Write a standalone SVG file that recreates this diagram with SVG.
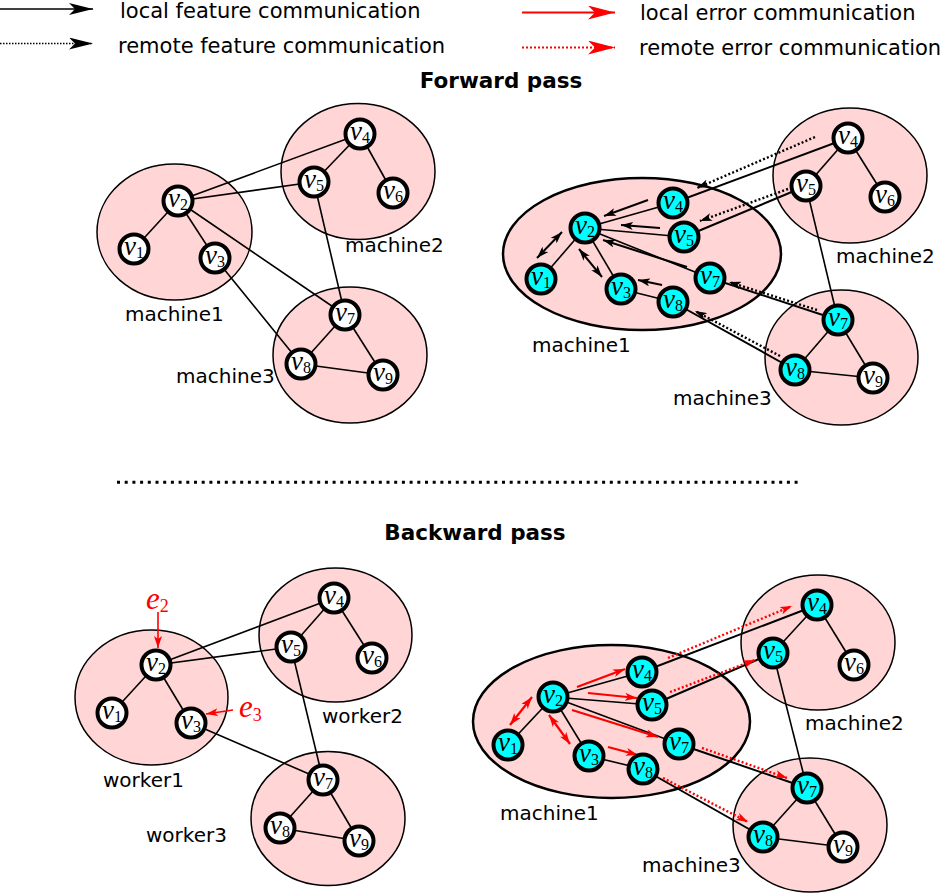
<svg xmlns="http://www.w3.org/2000/svg" width="944" height="895" viewBox="0 0 944 895">
<defs>
<style>
.m{fill:#ffd5d5;stroke:#000;stroke-width:1.5}
.mb{fill:#ffd5d5;stroke:#000;stroke-width:2.5}
.n{fill:#fff;stroke:#000;stroke-width:4}
.c{fill:#00ffff;stroke:#000;stroke-width:4}
.e{stroke:#000;stroke-width:1.6;fill:none}
.ew{stroke:#000;stroke-width:2;fill:none}
.ab{stroke:#000;stroke-width:2;fill:none}
.ad{stroke:#000;stroke-width:2.4;stroke-dasharray:2 2.2;fill:none}
.ar{stroke:#f00;stroke-width:2.2;fill:none}
.ard{stroke:#f00;stroke-width:2.4;stroke-dasharray:2 2.2;fill:none}
.lab{font-family:"Liberation Serif",serif;text-anchor:middle}
.v{font-style:italic;font-size:27px}
.s{font-size:16px}
.ee{font-style:italic;font-size:31px}
.es{font-size:18px}
.t{font-family:"DejaVu Sans",sans-serif;font-size:20px;fill:#000}
.lg{font-family:"DejaVu Sans",sans-serif;font-size:21px;fill:#000}
.h{font-family:"DejaVu Sans",sans-serif;font-size:21.5px;font-weight:bold;text-anchor:middle}
</style>
<marker id="ah" viewBox="0 0 12 8" refX="12" refY="4" markerWidth="12" markerHeight="8" markerUnits="userSpaceOnUse" orient="auto-start-reverse"><path d="M0,0 L12,4 L0,8 L3,4 z" fill="#000"/></marker>
<marker id="ahr" viewBox="0 0 12 8" refX="12" refY="4" markerWidth="12" markerHeight="8" markerUnits="userSpaceOnUse" orient="auto-start-reverse"><path d="M0,0 L12,4 L0,8 L3,4 z" fill="#f00"/></marker>
<marker id="big" viewBox="0 0 24 12" refX="24" refY="6" markerWidth="24" markerHeight="12" markerUnits="userSpaceOnUse" orient="auto"><path d="M0,0 L24,6 L0,12 L6,6 z" fill="#000"/></marker>
<marker id="bigr" viewBox="0 0 27 14" refX="27" refY="7" markerWidth="27" markerHeight="14" markerUnits="userSpaceOnUse" orient="auto"><path d="M0,0 L27,7 L0,14 L7,7 z" fill="#f00"/></marker>
</defs>
<rect width="944" height="895" fill="#fff"/>

<g id="legend">
<line x1="0" y1="9" x2="93" y2="9" stroke="#000" stroke-width="1.5" marker-end="url(#big)"/>
<text x="120" y="18" class="lg">local feature communication</text>
<line x1="0" y1="43.5" x2="93" y2="43.5" stroke="#000" stroke-width="1.5" stroke-dasharray="1.5 1.5" marker-end="url(#big)"/>
<text x="118" y="53" class="lg">remote feature communication</text>
<line x1="522" y1="12.5" x2="615" y2="12.5" stroke="#f00" stroke-width="1.8" marker-end="url(#bigr)"/>
<text x="640" y="20" class="lg">local error communication</text>
<line x1="522" y1="47.5" x2="615" y2="47.5" stroke="#f00" stroke-width="1.8" stroke-dasharray="2 2" marker-end="url(#bigr)"/>
<text x="639" y="55" class="lg">remote error communication</text>
</g>

<text x="501" y="88" class="h">Forward pass</text>
<text x="475" y="540" class="h">Backward pass</text>
<line x1="117" y1="482.3" x2="802" y2="482.3" stroke="#000" stroke-width="3" stroke-dasharray="3 4.7"/>

<!-- machine ellipses -->
<g id="fl-machine1"><ellipse cx="174.5" cy="232" rx="77.5" ry="68" class="m"/><text x="125" y="321" class="t">machine1</text></g>
<g id="fl-machine2"><ellipse cx="358" cy="171.5" rx="77" ry="68" class="m"/><text x="345" y="252" class="t">machine2</text></g>
<g id="fl-machine3"><ellipse cx="350" cy="355" rx="77" ry="68" class="m"/><text x="176" y="383" class="t">machine3</text></g>

<g id="fr-machine1"><ellipse cx="642" cy="254" rx="139" ry="76" class="mb"/><text x="532" y="352" class="t">machine1</text></g>
<g id="fr-machine2"><ellipse cx="850" cy="175.5" rx="77" ry="67.5" class="m"/><text x="836" y="263" class="t">machine2</text></g>
<g id="fr-machine3"><ellipse cx="841.5" cy="357.5" rx="76.5" ry="67.5" class="m"/><text x="673" y="405" class="t">machine3</text></g>

<g id="bl-worker1"><ellipse cx="151.5" cy="697.5" rx="76.5" ry="67.5" class="m"/><text x="103" y="787" class="t">worker1</text></g>
<g id="bl-worker2"><ellipse cx="335.5" cy="635" rx="76.5" ry="67" class="m"/><text x="322" y="723" class="t">worker2</text></g>
<g id="bl-worker3"><ellipse cx="328" cy="818.5" rx="77" ry="67" class="m"/><text x="146" y="842" class="t">worker3</text></g>

<g id="br-machine1"><ellipse cx="611.5" cy="721.5" rx="138.5" ry="76.5" class="mb"/><text x="500" y="820" class="t">machine1</text></g>
<g id="br-machine2"><ellipse cx="818" cy="642.5" rx="77" ry="67.5" class="m"/><text x="805" y="730" class="t">machine2</text></g>
<g id="br-machine3"><ellipse cx="810" cy="825" rx="77" ry="67" class="m"/><text x="642" y="872" class="t">machine3</text></g>

<g id="connectors">
<!-- forward left -->
<line x1="178" y1="201" x2="134" y2="249" class="e"/>
<line x1="178" y1="201" x2="215" y2="258" class="e"/>
<line x1="178" y1="201" x2="360" y2="134" class="e"/>
<line x1="178" y1="201" x2="314" y2="182" class="e"/>
<line x1="178" y1="201" x2="345" y2="315" class="e"/>
<line x1="215" y1="258" x2="301" y2="364" class="e"/>
<line x1="360" y1="134" x2="314" y2="182" class="e"/>
<line x1="360" y1="134" x2="393" y2="193" class="e"/>
<line x1="314" y1="182" x2="345" y2="315" class="e"/>
<line x1="345" y1="315" x2="301" y2="364" class="e"/>
<line x1="345" y1="315" x2="383" y2="375" class="e"/>
<line x1="301" y1="364" x2="383" y2="375" class="e"/>
<!-- forward right -->
<line x1="585" y1="228" x2="541" y2="279" class="e"/>
<line x1="585" y1="228" x2="621" y2="289" class="e"/>
<line x1="585" y1="228" x2="673" y2="203" class="e"/>
<line x1="585" y1="228" x2="684" y2="237" class="e"/>
<line x1="585" y1="228" x2="710" y2="278" class="e"/>
<line x1="621" y1="289" x2="673" y2="302" class="e"/>
<line x1="673" y1="203" x2="848" y2="138" class="ew"/>
<line x1="684" y1="237" x2="806" y2="186" class="ew"/>
<line x1="710" y1="278" x2="838" y2="320" class="ew"/>
<line x1="673" y1="302" x2="795" y2="370" class="ew"/>
<line x1="848" y1="138" x2="806" y2="186" class="e"/>
<line x1="848" y1="138" x2="885" y2="197" class="e"/>
<line x1="806" y1="186" x2="838" y2="320" class="e"/>
<line x1="838" y1="320" x2="795" y2="370" class="e"/>
<line x1="838" y1="320" x2="873" y2="378" class="e"/>
<line x1="795" y1="370" x2="873" y2="378" class="e"/>
<line x1="648" y1="200" x2="604" y2="216" class="ab" marker-end="url(#ah)"/>
<line x1="660" y1="228" x2="621" y2="225" class="ab" marker-end="url(#ah)"/>
<line x1="687" y1="267" x2="603" y2="240" class="ab" marker-end="url(#ah)"/>
<line x1="662" y1="285" x2="638" y2="280" class="ab" marker-end="url(#ah)"/>
<line x1="537" y1="258" x2="562" y2="232" class="ab" marker-start="url(#ah)" marker-end="url(#ah)"/>
<line x1="579" y1="249" x2="602" y2="277" class="ab" marker-start="url(#ah)" marker-end="url(#ah)"/>
<line x1="815" y1="137" x2="697" y2="188" class="ad" marker-end="url(#ah)"/>
<line x1="788" y1="189" x2="700" y2="221" class="ad" marker-end="url(#ah)"/>
<line x1="817" y1="310" x2="729" y2="282" class="ad" marker-end="url(#ah)"/>
<line x1="780" y1="356" x2="695" y2="311" class="ad" marker-end="url(#ah)"/>
<!-- backward left -->
<line x1="156" y1="665" x2="112" y2="713" class="e"/>
<line x1="156" y1="665" x2="191" y2="723" class="e"/>
<line x1="156" y1="665" x2="334" y2="598" class="e"/>
<line x1="156" y1="665" x2="291" y2="647" class="e"/>
<line x1="191" y1="723" x2="323" y2="780" class="e"/>
<line x1="334" y1="598" x2="291" y2="647" class="e"/>
<line x1="334" y1="598" x2="372" y2="658" class="e"/>
<line x1="291" y1="647" x2="323" y2="780" class="e"/>
<line x1="323" y1="780" x2="280" y2="828" class="e"/>
<line x1="323" y1="780" x2="359" y2="841" class="e"/>
<line x1="280" y1="828" x2="359" y2="841" class="e"/>
<line x1="158" y1="612" x2="158" y2="648" stroke="#f00" stroke-width="1.6" marker-end="url(#ahr)"/>
<line x1="233" y1="710" x2="206" y2="714" stroke="#f00" stroke-width="1.6" marker-end="url(#ahr)"/>
<!-- backward right -->
<line x1="553" y1="697" x2="508" y2="745" class="e"/>
<line x1="553" y1="697" x2="589" y2="756" class="e"/>
<line x1="553" y1="697" x2="642" y2="672" class="e"/>
<line x1="553" y1="697" x2="652" y2="705" class="e"/>
<line x1="553" y1="697" x2="679" y2="744" class="e"/>
<line x1="589" y1="756" x2="643" y2="769" class="e"/>
<line x1="642" y1="672" x2="817" y2="605" class="ew"/>
<line x1="652" y1="705" x2="773" y2="653" class="ew"/>
<line x1="679" y1="744" x2="807" y2="788" class="ew"/>
<line x1="643" y1="769" x2="763" y2="837" class="ew"/>
<line x1="817" y1="605" x2="773" y2="653" class="e"/>
<line x1="817" y1="605" x2="854" y2="665" class="e"/>
<line x1="773" y1="653" x2="807" y2="788" class="e"/>
<line x1="807" y1="788" x2="763" y2="837" class="e"/>
<line x1="807" y1="788" x2="843" y2="847" class="e"/>
<line x1="763" y1="837" x2="843" y2="847" class="e"/>
<line x1="510" y1="725" x2="532" y2="697" class="ar" marker-start="url(#ahr)" marker-end="url(#ahr)"/>
<line x1="549" y1="715" x2="570" y2="744" class="ar" marker-start="url(#ahr)" marker-end="url(#ahr)"/>
<line x1="577" y1="687" x2="625" y2="669" class="ar" marker-end="url(#ahr)"/>
<line x1="588" y1="693" x2="637" y2="698" class="ar" marker-end="url(#ahr)"/>
<line x1="572" y1="710" x2="658" y2="737" class="ar" marker-end="url(#ahr)"/>
<line x1="608" y1="747" x2="638" y2="755" class="ar" marker-end="url(#ahr)"/>
<line x1="668" y1="658" x2="792" y2="606" class="ard" marker-end="url(#ahr)"/>
<line x1="670" y1="692" x2="755" y2="660" class="ard" marker-end="url(#ahr)"/>
<line x1="702" y1="748" x2="787" y2="778" class="ard" marker-end="url(#ahr)"/>
<line x1="663" y1="778" x2="748" y2="822" class="ard" marker-end="url(#ahr)"/>
</g>

<!-- forward left nodes -->
<g id="fl-v1"><circle cx="134" cy="249" r="14.5" class="n"/><text x="134" y="255" class="lab"><tspan class="v">v</tspan><tspan class="s" dy="3">1</tspan></text></g>
<g id="fl-v2"><circle cx="178" cy="201" r="14.5" class="n"/><text x="178" y="207" class="lab"><tspan class="v">v</tspan><tspan class="s" dy="3">2</tspan></text></g>
<g id="fl-v3"><circle cx="215" cy="258" r="14.5" class="n"/><text x="215" y="264" class="lab"><tspan class="v">v</tspan><tspan class="s" dy="3">3</tspan></text></g>
<g id="fl-v4"><circle cx="360" cy="134" r="14.5" class="n"/><text x="360" y="140" class="lab"><tspan class="v">v</tspan><tspan class="s" dy="3">4</tspan></text></g>
<g id="fl-v5"><circle cx="314" cy="182" r="14.5" class="n"/><text x="314" y="188" class="lab"><tspan class="v">v</tspan><tspan class="s" dy="3">5</tspan></text></g>
<g id="fl-v6"><circle cx="393" cy="193" r="14.5" class="n"/><text x="393" y="199" class="lab"><tspan class="v">v</tspan><tspan class="s" dy="3">6</tspan></text></g>
<g id="fl-v7"><circle cx="345" cy="315" r="14.5" class="n"/><text x="345" y="321" class="lab"><tspan class="v">v</tspan><tspan class="s" dy="3">7</tspan></text></g>
<g id="fl-v8"><circle cx="301" cy="364" r="14.5" class="n"/><text x="301" y="370" class="lab"><tspan class="v">v</tspan><tspan class="s" dy="3">8</tspan></text></g>
<g id="fl-v9"><circle cx="383" cy="375" r="14.5" class="n"/><text x="383" y="381" class="lab"><tspan class="v">v</tspan><tspan class="s" dy="3">9</tspan></text></g>

<!-- forward right nodes -->
<g id="fr-m1-v1"><circle cx="541" cy="279" r="14.5" class="c"/><text x="541" y="285" class="lab"><tspan class="v">v</tspan><tspan class="s" dy="3">1</tspan></text></g>
<g id="fr-m1-v2"><circle cx="585" cy="228" r="14.5" class="c"/><text x="585" y="234" class="lab"><tspan class="v">v</tspan><tspan class="s" dy="3">2</tspan></text></g>
<g id="fr-m1-v3"><circle cx="621" cy="289" r="14.5" class="c"/><text x="621" y="295" class="lab"><tspan class="v">v</tspan><tspan class="s" dy="3">3</tspan></text></g>
<g id="fr-m1-v4"><circle cx="673" cy="203" r="14.5" class="c"/><text x="673" y="209" class="lab"><tspan class="v">v</tspan><tspan class="s" dy="3">4</tspan></text></g>
<g id="fr-m1-v5"><circle cx="684" cy="237" r="14.5" class="c"/><text x="684" y="243" class="lab"><tspan class="v">v</tspan><tspan class="s" dy="3">5</tspan></text></g>
<g id="fr-m1-v7"><circle cx="710" cy="278" r="14.5" class="c"/><text x="710" y="284" class="lab"><tspan class="v">v</tspan><tspan class="s" dy="3">7</tspan></text></g>
<g id="fr-m1-v8"><circle cx="673" cy="302" r="14.5" class="c"/><text x="673" y="308" class="lab"><tspan class="v">v</tspan><tspan class="s" dy="3">8</tspan></text></g>
<g id="fr-m2-v4"><circle cx="848" cy="138" r="14.5" class="n"/><text x="848" y="144" class="lab"><tspan class="v">v</tspan><tspan class="s" dy="3">4</tspan></text></g>
<g id="fr-m2-v5"><circle cx="806" cy="186" r="14.5" class="n"/><text x="806" y="192" class="lab"><tspan class="v">v</tspan><tspan class="s" dy="3">5</tspan></text></g>
<g id="fr-m2-v6"><circle cx="885" cy="197" r="14.5" class="n"/><text x="885" y="203" class="lab"><tspan class="v">v</tspan><tspan class="s" dy="3">6</tspan></text></g>
<g id="fr-m3-v7"><circle cx="838" cy="320" r="14.5" class="c"/><text x="838" y="326" class="lab"><tspan class="v">v</tspan><tspan class="s" dy="3">7</tspan></text></g>
<g id="fr-m3-v8"><circle cx="795" cy="370" r="14.5" class="c"/><text x="795" y="376" class="lab"><tspan class="v">v</tspan><tspan class="s" dy="3">8</tspan></text></g>
<g id="fr-m3-v9"><circle cx="873" cy="378" r="14.5" class="n"/><text x="873" y="384" class="lab"><tspan class="v">v</tspan><tspan class="s" dy="3">9</tspan></text></g>

<!-- backward left nodes -->
<g id="bl-v1"><circle cx="112" cy="713" r="14.5" class="n"/><text x="112" y="719" class="lab"><tspan class="v">v</tspan><tspan class="s" dy="3">1</tspan></text></g>
<g id="bl-v2"><circle cx="156" cy="665" r="14.5" class="n"/><text x="156" y="671" class="lab"><tspan class="v">v</tspan><tspan class="s" dy="3">2</tspan></text></g>
<g id="bl-v3"><circle cx="191" cy="723" r="14.5" class="n"/><text x="191" y="729" class="lab"><tspan class="v">v</tspan><tspan class="s" dy="3">3</tspan></text></g>
<g id="bl-v4"><circle cx="334" cy="598" r="14.5" class="n"/><text x="334" y="604" class="lab"><tspan class="v">v</tspan><tspan class="s" dy="3">4</tspan></text></g>
<g id="bl-v5"><circle cx="291" cy="647" r="14.5" class="n"/><text x="291" y="653" class="lab"><tspan class="v">v</tspan><tspan class="s" dy="3">5</tspan></text></g>
<g id="bl-v6"><circle cx="372" cy="658" r="14.5" class="n"/><text x="372" y="664" class="lab"><tspan class="v">v</tspan><tspan class="s" dy="3">6</tspan></text></g>
<g id="bl-v7"><circle cx="323" cy="780" r="14.5" class="n"/><text x="323" y="786" class="lab"><tspan class="v">v</tspan><tspan class="s" dy="3">7</tspan></text></g>
<g id="bl-v8"><circle cx="280" cy="828" r="14.5" class="n"/><text x="280" y="834" class="lab"><tspan class="v">v</tspan><tspan class="s" dy="3">8</tspan></text></g>
<g id="bl-v9"><circle cx="359" cy="841" r="14.5" class="n"/><text x="359" y="847" class="lab"><tspan class="v">v</tspan><tspan class="s" dy="3">9</tspan></text></g>
<g id="bl-e2"><text x="146" y="609" fill="#f00" font-family="Liberation Serif,serif"><tspan class="ee">e</tspan><tspan class="es" dy="3">2</tspan></text></g>
<g id="bl-e3"><text x="239" y="717" fill="#f00" font-family="Liberation Serif,serif"><tspan class="ee">e</tspan><tspan class="es" dy="4">3</tspan></text></g>

<!-- backward right nodes -->
<g id="br-m1-v1"><circle cx="508" cy="745" r="14.5" class="c"/><text x="508" y="751" class="lab"><tspan class="v">v</tspan><tspan class="s" dy="3">1</tspan></text></g>
<g id="br-m1-v2"><circle cx="553" cy="697" r="14.5" class="c"/><text x="553" y="703" class="lab"><tspan class="v">v</tspan><tspan class="s" dy="3">2</tspan></text></g>
<g id="br-m1-v3"><circle cx="589" cy="756" r="14.5" class="c"/><text x="589" y="762" class="lab"><tspan class="v">v</tspan><tspan class="s" dy="3">3</tspan></text></g>
<g id="br-m1-v4"><circle cx="642" cy="672" r="14.5" class="c"/><text x="642" y="678" class="lab"><tspan class="v">v</tspan><tspan class="s" dy="3">4</tspan></text></g>
<g id="br-m1-v5"><circle cx="652" cy="705" r="14.5" class="c"/><text x="652" y="711" class="lab"><tspan class="v">v</tspan><tspan class="s" dy="3">5</tspan></text></g>
<g id="br-m1-v7"><circle cx="679" cy="744" r="14.5" class="c"/><text x="679" y="750" class="lab"><tspan class="v">v</tspan><tspan class="s" dy="3">7</tspan></text></g>
<g id="br-m1-v8"><circle cx="643" cy="769" r="14.5" class="c"/><text x="643" y="775" class="lab"><tspan class="v">v</tspan><tspan class="s" dy="3">8</tspan></text></g>
<g id="br-m2-v4"><circle cx="817" cy="605" r="14.5" class="c"/><text x="817" y="611" class="lab"><tspan class="v">v</tspan><tspan class="s" dy="3">4</tspan></text></g>
<g id="br-m2-v5"><circle cx="773" cy="653" r="14.5" class="c"/><text x="773" y="659" class="lab"><tspan class="v">v</tspan><tspan class="s" dy="3">5</tspan></text></g>
<g id="br-m2-v6"><circle cx="854" cy="665" r="14.5" class="n"/><text x="854" y="671" class="lab"><tspan class="v">v</tspan><tspan class="s" dy="3">6</tspan></text></g>
<g id="br-m3-v7"><circle cx="807" cy="788" r="14.5" class="c"/><text x="807" y="794" class="lab"><tspan class="v">v</tspan><tspan class="s" dy="3">7</tspan></text></g>
<g id="br-m3-v8"><circle cx="763" cy="837" r="14.5" class="c"/><text x="763" y="843" class="lab"><tspan class="v">v</tspan><tspan class="s" dy="3">8</tspan></text></g>
<g id="br-m3-v9"><circle cx="843" cy="847" r="14.5" class="n"/><text x="843" y="853" class="lab"><tspan class="v">v</tspan><tspan class="s" dy="3">9</tspan></text></g>
</svg>
